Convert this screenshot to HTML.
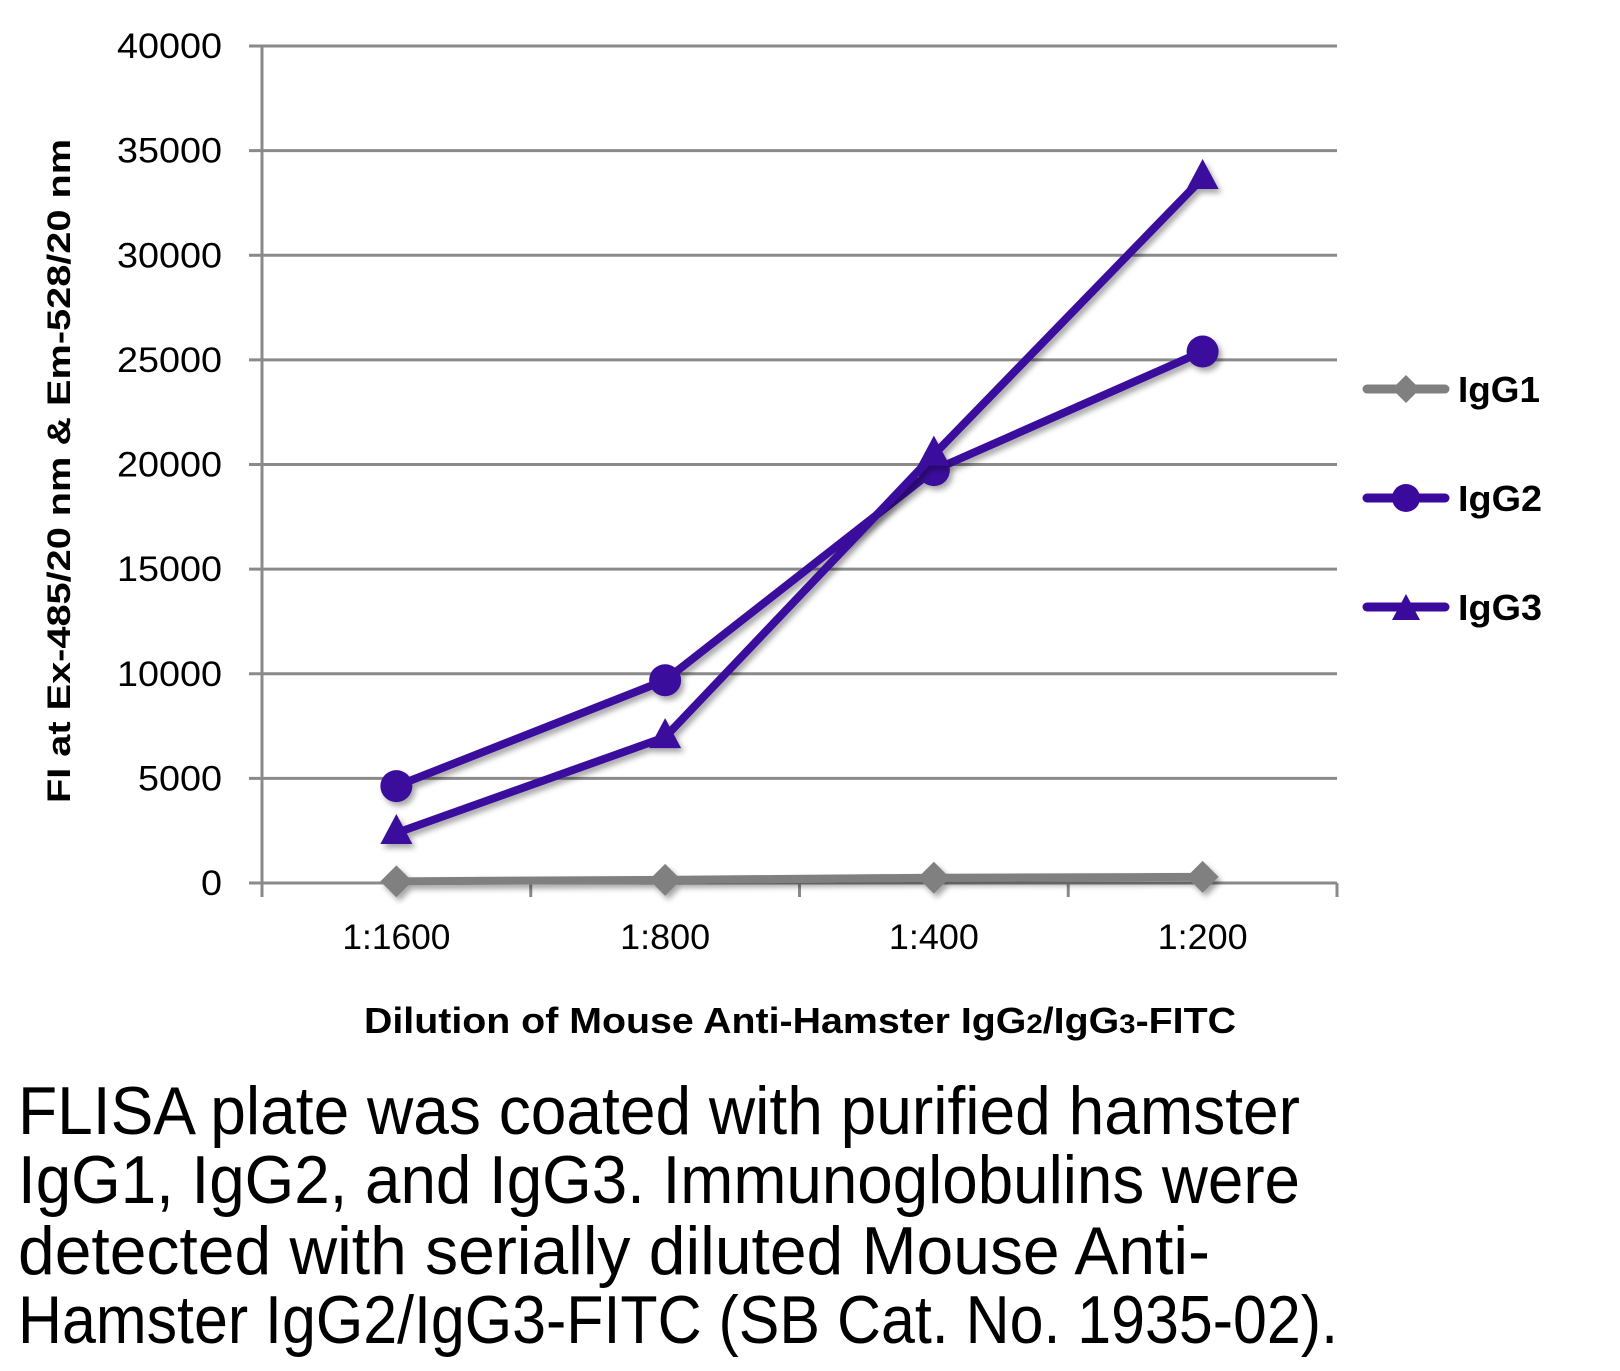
<!DOCTYPE html>
<html><head><meta charset="utf-8">
<style>
html,body{margin:0;padding:0;background:#fff;}
svg{display:block;}
text{font-family:"Liberation Sans",sans-serif;}
</style></head>
<body>
<svg id="chart" width="1620" height="1371" viewBox="0 0 1620 1371" xmlns="http://www.w3.org/2000/svg">
<defs>
<filter id="sh" x="-20%" y="-20%" width="140%" height="140%">
<feDropShadow dx="3" dy="4" stdDeviation="3" flood-color="#000" flood-opacity="0.35"/>
</filter>
</defs>
<g id="grid"></g>
<g id="axes"></g>
<g id="series"></g>
<text transform="translate(70,471) rotate(-90)" text-anchor="middle" font-size="32" font-weight="bold" textLength="664" lengthAdjust="spacingAndGlyphs">FI at Ex-485/20 nm &amp; Em-528/20 nm</text>
<text x="800" y="1033" text-anchor="middle" font-size="36" font-weight="bold" textLength="872" lengthAdjust="spacingAndGlyphs">Dilution of Mouse Anti-Hamster IgG<tspan font-size="27">2</tspan>/IgG<tspan font-size="27">3</tspan>-FITC</text>
<g>
  <g>
    <line x1="1367" y1="389" x2="1445" y2="389" stroke="#808080" stroke-width="9" stroke-linecap="round"/>
    <polygon points="1406,375 1420,389 1406,403 1392,389" fill="#808080"/>
    <text x="1458" y="402" font-size="36" font-weight="bold" textLength="82" lengthAdjust="spacingAndGlyphs">IgG1</text>
  </g>
  <g>
    <line x1="1367" y1="498" x2="1445" y2="498" stroke="#3a0a9c" stroke-width="9" stroke-linecap="round"/>
    <circle cx="1406" cy="498" r="14" fill="#3a0a9c"/>
    <text x="1458" y="511" font-size="36" font-weight="bold" textLength="84" lengthAdjust="spacingAndGlyphs">IgG2</text>
  </g>
  <g>
    <line x1="1367" y1="607" x2="1445" y2="607" stroke="#3a0a9c" stroke-width="9" stroke-linecap="round"/>
    <polygon points="1406,594 1420,620 1392,620" fill="#3a0a9c"/>
    <text x="1458" y="620" font-size="36" font-weight="bold" textLength="84" lengthAdjust="spacingAndGlyphs">IgG3</text>
  </g>
</g>
<g font-size="68">
  <text x="18" y="1134" textLength="1282" lengthAdjust="spacingAndGlyphs">FLISA plate was coated with purified hamster</text>
  <text x="18" y="1203" textLength="1282" lengthAdjust="spacingAndGlyphs">IgG1, IgG2, and IgG3.  Immunoglobulins were</text>
  <text x="18" y="1274" textLength="1192" lengthAdjust="spacingAndGlyphs">detected with serially diluted Mouse Anti-</text>
  <text x="18" y="1343" textLength="1320" lengthAdjust="spacingAndGlyphs">Hamster IgG2/IgG3-FITC (SB Cat. No. 1935-02).</text>
</g>
</svg>
<script>
const categories = ["1:1600", "1:800", "1:400", "1:200"];
const yTicks = [0, 5000, 10000, 15000, 20000, 25000, 30000, 35000, 40000];
const igg1 = [80, 150, 250, 290];
const igg2 = [4630, 9690, 19730, 25400];
const igg3 = [2390, 6970, 20470, 33690];

const NS = "http://www.w3.org/2000/svg";
const X0 = 262, CW = 268.75, Y0 = 883, Y1 = 46, YMAX = 40000;
function xs(i){ return X0 + CW * (i + 0.5); }
function ys(v){ return Y0 - (v / YMAX) * (Y0 - Y1); }
function mk(tag, attrs, parent){
  const e = document.createElementNS(NS, tag);
  for (const k in attrs) e.setAttribute(k, attrs[k]);
  parent.appendChild(e);
  return e;
}
const grid = document.getElementById('grid');
const axes = document.getElementById('axes');
const ser = document.getElementById('series');

yTicks.forEach(t => {
  const y = ys(t);
  const gl = mk('line', {x1: 249, x2: X0 + CW * categories.length, y1: y, y2: y, stroke: '#8a8a8a', 'stroke-width': 3}, grid);
  
  
  const lb = mk('text', {x: 222, y: y + 12, 'text-anchor': 'end', 'font-size': 35, textLength: String(t).length * 21, lengthAdjust: 'spacingAndGlyphs'}, axes);
  lb.textContent = t;
  
  
});
const ya = mk('line', {x1: X0, x2: X0, y1: Y1, y2: Y0 + 14, stroke: '#8a8a8a', 'stroke-width': 3}, axes);


for (let i = 1; i <= categories.length; i++){
  const tk = mk('line', {x1: X0 + CW * i, x2: X0 + CW * i, y1: Y0, y2: Y0 + 14, stroke: '#8a8a8a', 'stroke-width': 3}, axes);
  
  
}
categories.forEach((c, i) => {
  const t = mk('text', {x: xs(i), y: 949, 'text-anchor': 'middle', 'font-size': 35, textLength: c.length * 18, lengthAdjust: 'spacingAndGlyphs'}, axes);
  t.textContent = c;
  
  
});

function drawSeries(vals, color, shape, name){
  const g = mk('g', {filter: 'url(#sh)'}, ser);
  
  
  const pts = vals.map((v, i) => xs(i) + ',' + ys(v)).join(' ');
  const pl = mk('polyline', {points: pts, fill: 'none', stroke: color, 'stroke-width': 8, 'stroke-linejoin': 'round'}, g);
  
  
  vals.forEach((v, i) => {
    const x = xs(i), y = ys(v);
    let m;
    if (shape === 'diamond') m = mk('polygon', {points: `${x},${y-16} ${x+16},${y} ${x},${y+16} ${x-16},${y}`, fill: color}, g);
    else if (shape === 'circle') m = mk('circle', {cx: x, cy: y, r: 16, fill: color}, g);
    else m = mk('polygon', {points: `${x},${y-19} ${x+16},${y+11} ${x-16},${y+11}`, fill: color}, g);
    
    
  });
}
drawSeries(igg1, '#808080', 'diamond', 'igg1-series');
drawSeries(igg2, '#3a0a9c', 'circle', 'igg2-series');
drawSeries(igg3, '#3a0a9c', 'triangle', 'igg3-series');
</script>
</body></html>
